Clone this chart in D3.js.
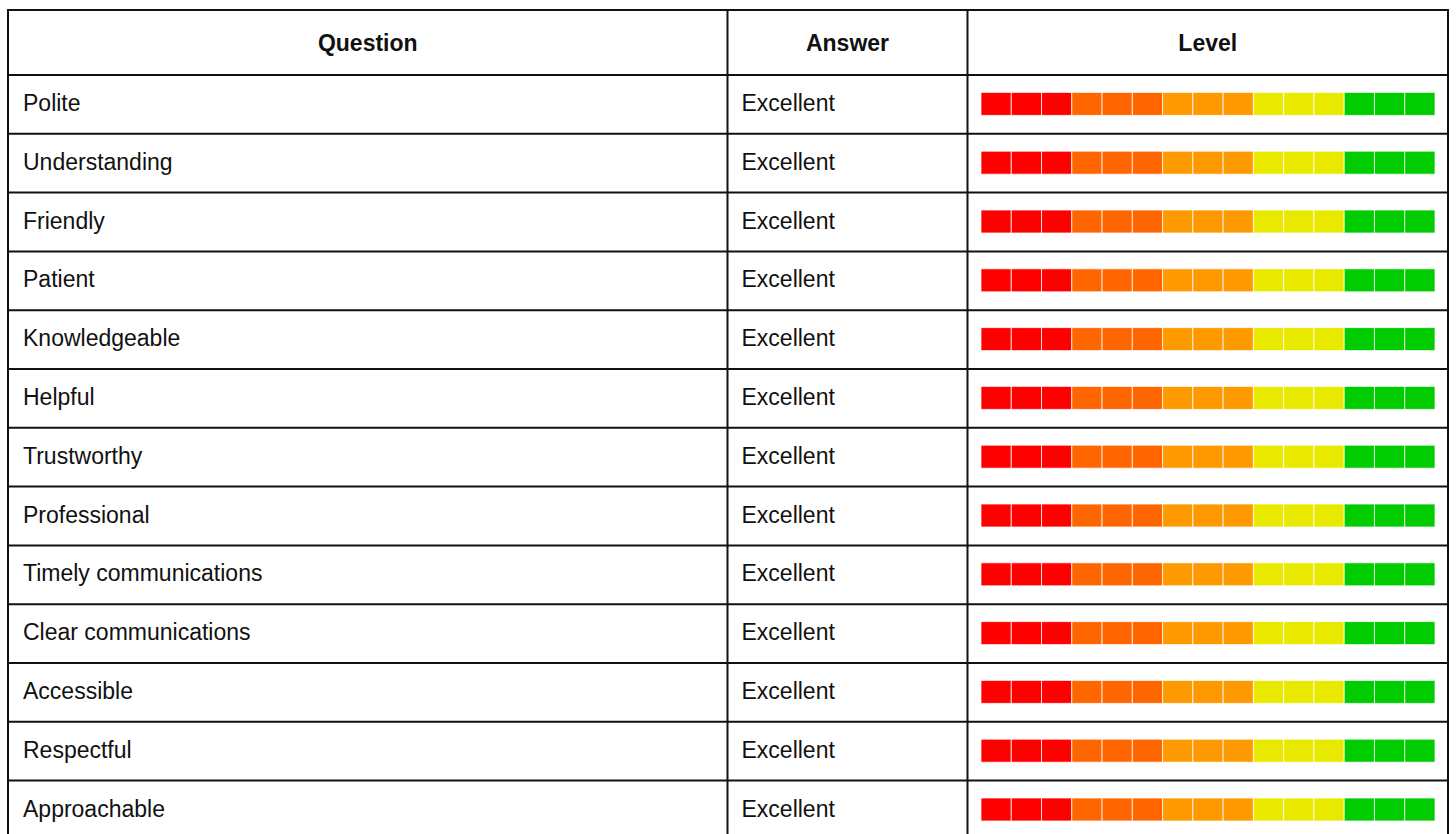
<html>
    <head>
        <script src="https://d3js.org/d3.v7.min.js"></script>
        <style>
            body {
                margin: 0;
                background: #fff;
                font-family: "Liberation Sans", Arial, sans-serif;
            }
            .grid line {
                stroke: #111;
                stroke-width: 2;
            }
            .head {
                font-weight: bold;
                font-size: 23px;
                fill: #111;
            }
            .cell {
                font-size: 23px;
                fill: #111;
            }
        </style>
    </head>

    <body>
        <div id="chart"></div>
    </body>

<script>
    var headers = ["Question", "Answer", "Level"]
    var questions = ["Polite", "Understanding", "Friendly", "Patient", "Knowledgeable", "Helpful",
        "Trustworthy", "Professional", "Timely communications", "Clear communications",
        "Accessible", "Respectful", "Approachable"]
    var answers = ["Excellent", "Excellent", "Excellent", "Excellent", "Excellent", "Excellent",
        "Excellent", "Excellent", "Excellent", "Excellent", "Excellent", "Excellent", "Excellent"]
    // filled segments out of 15 for each row
    var levels = [15, 15, 15, 15, 15, 15, 15, 15, 15, 15, 15, 15, 15]
    var segmentColors = ["#ff0000", "#ff0000", "#ff0000",
        "#ff6600", "#ff6600", "#ff6600",
        "#ff9900", "#ff9900", "#ff9900",
        "#e9e900", "#e9e900", "#e9e900",
        "#00cc00", "#00cc00", "#00cc00"]

    var width = 1456, height = 834
    var colX = [8, 727.5, 967.5, 1448]   // column boundaries
    var tableTop = 10, headH = 65, rowH = 58.8

    var svg = d3.select("#chart").append("svg")
        .attr("width", width)
        .attr("height", height)

    var y = d3.scaleBand()
        .domain(questions)
        .range([tableTop + headH, tableTop + headH + rowH * questions.length])

    var seg = d3.scaleBand()
        .domain(d3.range(segmentColors.length))
        .range([colX[2] + 13.5, colX[3] - 13])
        .paddingInner(0)

    // header text
    svg.selectAll("text.head")
        .data(headers)
        .join("text")
            .attr("class", "head")
            .attr("x", (d, i) => (colX[i] + colX[i + 1]) / 2)
            .attr("y", tableTop + headH / 2)
            .attr("text-anchor", "middle")
            .attr("dy", "0.35em")
            .text(d => d)

    var rows = svg.selectAll("g.row")
        .data(questions)
        .join("g")
            .attr("class", "row")
            .attr("transform", d => `translate(0,${y(d)})`)

    rows.append("text")
        .attr("class", "cell")
        .attr("x", colX[0] + 15)
        .attr("y", y.bandwidth() / 2 - 1.5)
        .attr("dy", "0.35em")
        .text(d => d)

    rows.append("text")
        .attr("class", "cell")
        .attr("x", colX[1] + 14)
        .attr("y", y.bandwidth() / 2 - 1.5)
        .attr("dy", "0.35em")
        .text((d, i) => answers[i])

    rows.each(function(d, i) {
        d3.select(this).selectAll("rect")
            .data(segmentColors.slice(0, levels[i]))
            .join("rect")
                .attr("x", (c, j) => seg(j))
                .attr("y", y.bandwidth() / 2 - 12)
                .attr("width", seg.bandwidth())
                .attr("height", 23)
                .attr("fill", c => c)
                .attr("stroke", "#fff")
                .attr("stroke-opacity", 0.75)
                .attr("stroke-width", 1)
    })

    // grid lines
    var grid = svg.append("g").attr("class", "grid")
    var bottom = tableTop + headH + rowH * questions.length
    var hLines = [tableTop, tableTop + headH].concat(questions.map(q => y(q) + y.bandwidth()))
    grid.selectAll("line.h")
        .data(hLines)
        .join("line")
            .attr("class", "h")
            .attr("x1", colX[0] - 1)
            .attr("x2", colX[3] + 1)
            .attr("y1", d => d)
            .attr("y2", d => d)
    grid.selectAll("line.v")
        .data(colX)
        .join("line")
            .attr("class", "v")
            .attr("x1", d => d)
            .attr("x2", d => d)
            .attr("y1", tableTop)
            .attr("y2", bottom)
</script>
</html>
